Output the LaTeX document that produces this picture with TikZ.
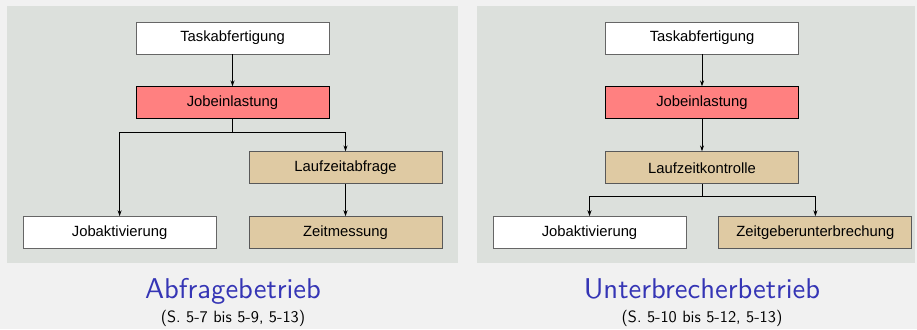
\documentclass[tikz,border=0pt]{standalone}
\usepackage{fontspec}
\newfontfamily\boxfont{Liberation Sans}
\newfontfamily\capfont{lmsans10-regular.otf}
\usepackage{xcolor}
\usepackage{tikz}
\usetikzlibrary{positioning,arrows.meta}

\definecolor{pagegray}{HTML}{F1F1F1}
\definecolor{panelgray}{HTML}{DCE0DC}
\definecolor{jobred}{HTML}{FF8080}
\definecolor{timetan}{HTML}{DFCAA3}
\definecolor{titleblue}{HTML}{3535B5}

\begin{document}
\begin{tikzpicture}[x=1pt,y=-1pt,node distance=32pt,>={Stealth[length=6pt,width=4pt]},line width=0.9pt]

  % background and the two panels
  \fill[pagegray] (0,0) rectangle (917,329);
  \useasboundingbox (0,0) rectangle (917,329);
  \fill[panelgray] (7,6) rectangle (458,263);
  \fill[panelgray] (477,6) rectangle (915,263);

  \tikzstyle{stage}=[draw=black!60,fill=white,minimum width=193pt,minimum height=32pt,inner sep=0pt,font=\boxfont\fontsize{14.8}{16}\selectfont]
  \tikzstyle{load}=[stage,draw=black,fill=jobred]
  \tikzstyle{timer}=[stage,draw=black!65,fill=timetan]
  \tikzstyle{title}=[anchor=base,text=titleblue,font=\capfont\fontsize{28.6}{30}\selectfont]
  \tikzstyle{pages}=[anchor=base,font=\capfont\fontsize{16.3}{18}\selectfont]

  % Abfragebetrieb
  \node[stage] (taskA) at (232.5,38) {Taskabfertigung};
  \node[load] (loadA) [below=of taskA] {Jobeinlastung};
  \node[timer] (queryA) [below=of loadA,xshift=113pt] {Laufzeitabfrage};
  \node[timer] (measA) [below=of queryA] {Zeitmessung};
  \node[stage] (actA) [left=of measA] {Jobaktivierung};

  \draw[->] (taskA) -- (loadA);
  \draw[->] (loadA.south) -- ++(0,13) -| (actA.north);
  \draw[->] (loadA.south) -- ++(0,13) -| (queryA.north);
  \draw[->] (queryA) -- (measA);

  \node[title] (modeA) at (233,298) {Abfragebetrieb};
  \node[pages] (refA) at (233,322) {(S. 5-7 bis 5-9, 5-13)};

  % Unterbrecherbetrieb
  \node[stage] (taskB) at (702,38) {Taskabfertigung};
  \node[load] (loadB) [below=of taskB] {Jobeinlastung};
  \node[timer] (ctrlB) [below=of loadB] {Laufzeitkontrolle};
  \node[stage] (actB) [below=of ctrlB,xshift=-112.5pt] {Jobaktivierung};
  \node[timer] (irqB) [right=of actB] {Zeitgeberunterbrechung};

  \draw[->] (taskB) -- (loadB);
  \draw[->] (loadB) -- (ctrlB);
  \draw[->] (ctrlB.south) -- ++(0,12) -| (actB.north);
  \draw[->] (ctrlB.south) -- ++(0,12) -| (irqB.north);

  \node[title] (modeB) at (702,298) {Unterbrecherbetrieb};
  \node[pages] (refB) at (702,322) {(S. 5-10 bis 5-12, 5-13)};

\end{tikzpicture}
\end{document}
